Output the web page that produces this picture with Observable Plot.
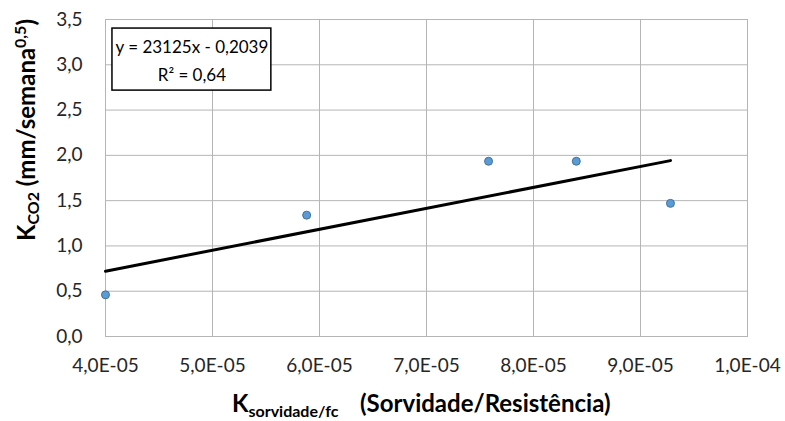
<!DOCTYPE html>
<html><head><meta charset="utf-8">
<script src="https://cdn.jsdelivr.net/npm/d3@7"></script>
<script src="https://cdn.jsdelivr.net/npm/@observablehq/plot@0.6"></script>
<style>
html,body{margin:0;padding:0;background:#fff;}
#chart svg{display:block;}
</style>
</head><body><div id="chart"></div>
<script>
// data
const kSorvidade = [4.0e-5, 5.88e-5, 7.58e-5, 8.40e-5, 9.28e-5];
const kCO2 = [0.46, 1.34, 1.935, 1.935, 1.47];
const slope = 23125, intercept = -0.2039;
const equationLines = ["y = 23125x - 0,2039", "R² = 0,64"];
const xTicks = [4e-5, 5e-5, 6e-5, 7e-5, 8e-5, 9e-5, 1e-4];
const xTickLabels = ["4,0E-05","5,0E-05","6,0E-05","7,0E-05","8,0E-05","9,0E-05","1,0E-04"];
const yTicks = [0, 0.5, 1, 1.5, 2, 2.5, 3, 3.5];
const yTickLabels = ["0,0","0,5","1,0","1,5","2,0","2,5","3,0","3,5"];
// equation box extent (data units)
const boxX = [4.065e-5, 5.55e-5];
const boxY = [2.715, 3.40];

const points = kSorvidade.map((x, i) => ({x, y: kCO2[i]}));
const xMin = d3.min(kSorvidade), xMax = d3.max(kSorvidade);
const trend = [xMin, xMax].map(x => ({x, y: slope * x + intercept}));

const font = "Lato, 'Open Sans', sans-serif";
const grid = "#b5b5b5";
const plot = Plot.plot({
  width: 785, height: 421,
  marginLeft: 105, marginRight: 38, marginTop: 19, marginBottom: 85,
  style: {fontFamily: font, fontSize: "19px", color: "#262626", background: "#fff"},
  x: {domain: [4e-5, 1e-4]},
  y: {domain: [0, 3.5]},
  marks: [
    Plot.gridX(xTicks, {stroke: grid, strokeOpacity: 1}),
    Plot.gridY(yTicks, {stroke: grid, strokeOpacity: 1}),
    Plot.frame({stroke: grid, strokeOpacity: 1}),
    Plot.axisX({ticks: xTicks, tickSize: 0, tickPadding: 22, tickFormat: d => xTickLabels[xTicks.findIndex(t => Math.abs(t - d) < 1e-9)], label: null}),
    Plot.axisY({ticks: yTicks, tickSize: 0, tickPadding: 23, tickFormat: d => yTickLabels[yTicks.findIndex(t => Math.abs(t - d) < 1e-9)], label: null}),
    Plot.line(trend, {x: "x", y: "y", stroke: "#000", strokeWidth: 3}),
    Plot.dot(points, {x: "x", y: "y", r: 4, fill: "#5b9bd5", stroke: "#41719c", strokeWidth: 1}),
    Plot.rect([{x1: boxX[0], x2: boxX[1], y1: boxY[0], y2: boxY[1]}], {x1: "x1", x2: "x2", y1: "y1", y2: "y2", fill: "#fff", stroke: "#000", strokeWidth: 1.5}),
    Plot.text([equationLines[0]], {x: (boxX[0] + boxX[1]) / 2, y: boxY[1], dy: 19, text: d => d, fontSize: 17, fill: "#000"}),
    Plot.text([equationLines[1]], {x: (boxX[0] + boxX[1]) / 2, y: boxY[1], dy: 47, text: d => d, fontSize: 17, fill: "#000"})
  ]
});
document.getElementById("chart").appendChild(plot);

const svg = d3.select(plot);
// y axis title
const yt = svg.append("text")
  .attr("transform", "translate(35,130) rotate(-90)")
  .attr("text-anchor", "middle")
  .attr("font-family", font)
  .attr("font-weight", "bold").attr("font-size", 24).attr("fill", "#000");
yt.append("tspan").text("K");
yt.append("tspan").attr("font-size", 16).attr("dy", 4).text("CO2");
yt.append("tspan").attr("dy", -4).text(" (mm/semana");
yt.append("tspan").attr("font-size", 16).attr("dy", -9).text("0,5");
yt.append("tspan").attr("dy", 9).text(")");
// x axis title
const xt = svg.append("text")
  .attr("x", 232).attr("y", 412)
  .attr("text-anchor", "start")
  .attr("font-family", font)
  .attr("font-weight", "bold").attr("font-size", 24).attr("fill", "#000");
xt.append("tspan").text("K");
xt.append("tspan").attr("font-size", 16).attr("dy", 5).text("sorvidade/fc");
xt.append("tspan").attr("x", 360).attr("dy", -5).text("(Sorvidade/Resistência)");
</script>
</body></html>
